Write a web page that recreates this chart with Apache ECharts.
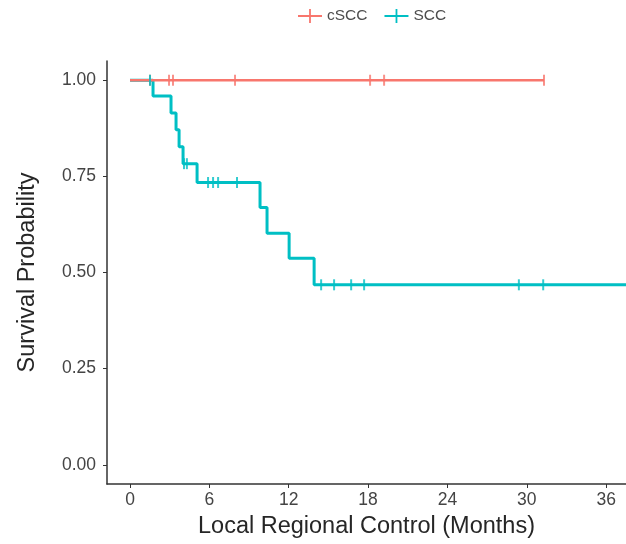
<!DOCTYPE html>
<html>
<head>
<meta charset="utf-8">
<script src="https://cdn.jsdelivr.net/npm/echarts@6/dist/echarts.min.js"></script>
<style>
  html, body { margin: 0; padding: 0; background: #fff; }
  #chart { width: 626px; height: 544px; }
</style>
</head>
<body>
<div id="chart"></div>
<script>
// step curves: time where the level starts, survival level
var csccTimes = [0, 31.3];
var csccSurv = [1, 1];
var csccCensorTimes = [1.51, 2.95, 3.25, 7.94, 18.15, 19.21, 31.3];
var csccCensorSurv = [1, 1, 1, 1, 1, 1, 1];

var sccTimes = [0, 1.74, 3.10, 3.48, 3.71, 4.01, 5.07, 9.83, 10.36, 12.03, 13.92, 37.5];
var sccSurv = [1, 0.959, 0.915, 0.871, 0.827, 0.783, 0.734, 0.669, 0.602, 0.537, 0.468, 0.468];
var sccCensorTimes = [1.51, 4.08, 4.3, 5.9, 6.28, 6.66, 8.09, 14.45, 15.43, 16.72, 17.7, 29.4, 31.24];
var sccCensorSurv = [1, 0.783, 0.783, 0.734, 0.734, 0.734, 0.734, 0.468, 0.468, 0.468, 0.468, 0.468, 0.468];

var xTicks = [0, 6, 12, 18, 24, 30, 36];
var yTicks = [0, 0.25, 0.5, 0.75, 1];

function pairs(xs, ys) {
    var out = [];
    for (var i = 0; i < xs.length; i++) out.push([xs[i], ys[i]]);
    return out;
}

var red = '#F8766D';
var teal = '#00BFC4';
var plusIcon = 'path://M0,10 L40,10 L40,13 L0,13 Z M18.5,0 L21.5,0 L21.5,23 L18.5,23 Z';

var myChart = echarts.init(document.getElementById('chart'));
var option = {
    animation: false,
    textStyle: { fontFamily: 'Liberation Sans, Arial, sans-serif' },
    legend: {
        data: ['cSCC', 'SCC'],
        left: 293,
        top: 3,
        icon: plusIcon,
        itemWidth: 24,
        itemHeight: 14,
        itemGap: 17,
        textStyle: { fontSize: 15.5, color: '#4d4d4d' }
    },
    grid: { left: 107, right: 0, top: 61, bottom: 58 },
    xAxis: {
        type: 'value',
        min: -1.74,
        max: 37.5,
        name: 'Local Regional Control (Months)',
        nameLocation: 'middle',
        nameGap: 31,
        nameTextStyle: { fontSize: 23.5, color: '#262626' },
        axisLine: { show: true, onZero: false, lineStyle: { color: '#333', width: 1.5 } },
        axisTick: { show: true, length: 4, lineStyle: { color: '#333' }, customValues: xTicks },
        axisLabel: { fontSize: 17.5, color: '#444', margin: 7, customValues: xTicks },
        splitLine: { show: false }
    },
    yAxis: {
        type: 'value',
        min: -0.05,
        max: 1.05,
        name: 'Survival Probability',
        nameLocation: 'middle',
        nameGap: 67,
        nameTextStyle: { fontSize: 23.5, color: '#262626' },
        axisLine: { show: true, onZero: false, lineStyle: { color: '#333', width: 1.5 } },
        axisTick: { show: true, length: 4, lineStyle: { color: '#333' }, customValues: yTicks },
        axisLabel: {
            fontSize: 17.5, color: '#444', margin: 11, customValues: yTicks,
            formatter: function (v) { return v.toFixed(2); }
        },
        splitLine: { show: false }
    },
    series: [
        {
            name: 'cSCC',
            type: 'line',
            step: 'end',
            symbol: 'none',
            data: pairs(csccTimes, csccSurv),
            itemStyle: { color: red },
            lineStyle: { color: red, width: 2.5 },
            z: 3
        },
        {
            name: 'SCC',
            type: 'line',
            step: 'end',
            symbol: 'none',
            data: pairs(sccTimes, sccSurv),
            itemStyle: { color: teal },
            lineStyle: { color: teal, width: 3 },
            z: 2
        },
        {
            name: 'cSCC censor',
            type: 'scatter',
            symbol: 'rect',
            symbolSize: [2, 11],
            data: pairs(csccCensorTimes, csccCensorSurv),
            itemStyle: { color: red },
            z: 4
        },
        {
            name: 'SCC censor',
            type: 'scatter',
            symbol: 'rect',
            symbolSize: [2, 11],
            data: pairs(sccCensorTimes, sccCensorSurv),
            itemStyle: { color: teal },
            z: 4
        }
    ]
};
myChart.setOption(option);
</script>
</body>
</html>
